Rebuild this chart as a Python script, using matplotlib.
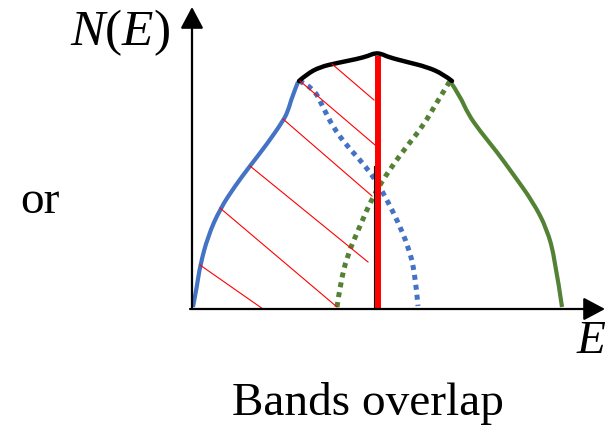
import matplotlib
matplotlib.use('Agg')
import matplotlib.pyplot as plt
from matplotlib.path import Path
from matplotlib.patches import PathPatch

plt.rcParams['font.family'] = ['Liberation Serif', 'DejaVu Serif']
plt.rcParams['mathtext.fontset'] = 'custom'
plt.rcParams['mathtext.rm'] = 'Liberation Serif'
plt.rcParams['mathtext.it'] = 'Liberation Serif:italic'

# energy (E) and density of states N(E), arbitrary units
blue_E = [1, 5, 8, 16, 28, 43, 58, 75, 91, 96, 100, 106]
blue_N = [2, 23, 43, 73, 100, 123, 143, 165, 188, 198, 212, 227]

top_E = [107, 115, 128, 145, 165, 176, 183, 190, 196, 215, 235, 251, 260]
top_N = [228, 235, 242, 246, 250, 253, 256, 255, 252, 247, 242, 235, 228]

green_E = [258, 268, 276, 288, 305, 321, 341, 355, 363, 370]
green_N = [228, 213, 195, 178, 157, 135, 107, 80, 50, 2]

blue_dot_E = [107, 121, 131, 141, 155, 170, 185, 196, 206, 216, 223, 226]
blue_dot_N = [228, 222, 202, 182, 163, 147, 127, 107, 87, 63, 37, 3]

green_dot_E = [145, 148, 155, 168, 181, 198, 215, 231, 245, 258]
green_dot_N = [2, 23, 53, 83, 113, 140, 163, 183, 207, 228]

fermi_E = 186
fermi_top = 253
thin_E = 182
thin_top = 143

# hatch strokes (E0, N0, E1, N1)
hatch = [
    (8, 44, 71, 0),
    (28, 101, 145, 2),
    (58, 143, 176, 47),
    (91, 190, 180, 113),
    (108, 228, 183, 164),
    (140, 245, 182, 209),
]

BLUE = '#4472C4'
GREEN = '#548235'


def smooth(ax, xs, ys, **kw):
    # quadratic bezier through midpoints, points act as control points
    pts = list(zip(xs, ys))
    verts = [pts[0]]
    codes = [Path.MOVETO]
    for i in range(1, len(pts) - 1):
        mid = ((pts[i][0] + pts[i + 1][0]) / 2, (pts[i][1] + pts[i + 1][1]) / 2)
        if i == len(pts) - 2:
            mid = pts[-1]
        verts += [pts[i], mid]
        codes += [Path.CURVE3, Path.CURVE3]
    ax.add_patch(PathPatch(Path(verts, codes), fill=False, **kw))


fig = plt.figure(figsize=(6.05, 4.27), dpi=100)
ax = fig.add_axes([0, 0, 1, 1])
ax.set_xlim(-192, 413)
ax.set_ylim(-117, 310)
ax.axis('off')

for e0, n0, e1, n1 in hatch:
    ax.plot([e0, e1], [n0, n1], color='red', lw=0.8)

ax.plot([thin_E, thin_E], [0, thin_top], color='black', lw=0.8)

smooth(ax, blue_dot_E, blue_dot_N, edgecolor=BLUE, lw=3.6,
       linestyle=(0, (1, 1.0)), capstyle='butt')
smooth(ax, green_dot_E, green_dot_N, edgecolor=GREEN, lw=3.6,
       linestyle=(0, (1, 1.0)), capstyle='butt')

smooth(ax, blue_E, blue_N, edgecolor=BLUE, lw=3.0, capstyle='butt')
smooth(ax, green_E, green_N, edgecolor=GREEN, lw=3.0, capstyle='butt')
smooth(ax, top_E, top_N, edgecolor='black', lw=3.2, capstyle='round')

ax.plot([fermi_E, fermi_E], [0, fermi_top], color='red', lw=4.3,
        solid_capstyle='butt')

# axes arrows
arrow = dict(arrowstyle='-|>,head_length=0.6,head_width=0.32',
             color='black', lw=1.6, mutation_scale=22, shrinkA=0, shrinkB=0)
ax.annotate('', xy=(0, 302), xytext=(0, 0), arrowprops=arrow)
ax.annotate('', xy=(413, 0), xytext=(-2, 0), arrowprops=arrow)

ax.text(-22, 265, r'$N(E)$', fontsize=37, ha='right', va='baseline')
ax.text(-172, 97, 'or', fontsize=34, ha='left', va='baseline')
ax.text(385, -43, 'E', fontsize=34, style='italic', ha='left', va='baseline')
ax.text(176, -105, 'Bands overlap', fontsize=34, ha='center', va='baseline')

fig.savefig('out.png', dpi=100)
